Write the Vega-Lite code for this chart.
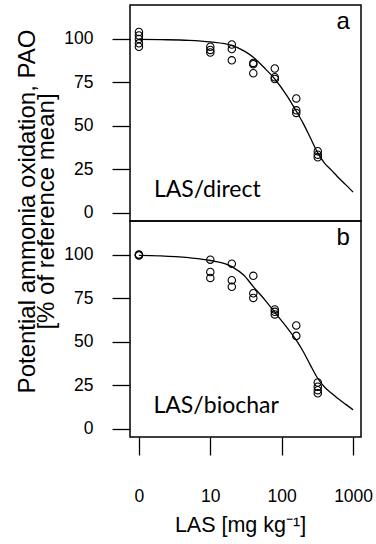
{
  "$schema": "https://vega.github.io/schema/vega-lite/v6.json",
  "padding": {"left": 14, "top": 4, "right": 5, "bottom": 5},
  "spacing": 0,
  "bounds": "flush",
  "background": "white",
  "config": {
    "font": "Liberation Sans",
    "view": {"stroke": "black", "strokeWidth": 1.5},
    "axis": {"grid": false, "domain": false, "tickColor": "black", "tickWidth": 1.3, "labelColor": "black", "titleColor": "black", "labelFont": "Liberation Sans", "titleFont": "Liberation Sans", "labelFontSize": 17.5, "titleFontWeight": "normal", "tickSize": 18},
    "axisY": {"tickSize": 18, "labelPadding": 19, "labelAlign": "right", "labelBaseline": "middle"}
  },
  "datasets": {
    "points": [
      {"panel": "a", "x": 1, "y": 104},
      {"panel": "a", "x": 1, "y": 102},
      {"panel": "a", "x": 1, "y": 100},
      {"panel": "a", "x": 1, "y": 97.5},
      {"panel": "a", "x": 1, "y": 95.5},
      {"panel": "a", "x": 10, "y": 95.5},
      {"panel": "a", "x": 10, "y": 93.7},
      {"panel": "a", "x": 10, "y": 92.2},
      {"panel": "a", "x": 20, "y": 96.8},
      {"panel": "a", "x": 20, "y": 94.2},
      {"panel": "a", "x": 20, "y": 87.7},
      {"panel": "a", "x": 40, "y": 86.2},
      {"panel": "a", "x": 40, "y": 85.5},
      {"panel": "a", "x": 40, "y": 80.3},
      {"panel": "a", "x": 80, "y": 83},
      {"panel": "a", "x": 80, "y": 78},
      {"panel": "a", "x": 80, "y": 77},
      {"panel": "a", "x": 160, "y": 65.8},
      {"panel": "a", "x": 160, "y": 59},
      {"panel": "a", "x": 160, "y": 57.5},
      {"panel": "a", "x": 320, "y": 35.5},
      {"panel": "a", "x": 320, "y": 33.5},
      {"panel": "a", "x": 320, "y": 32},
      {"panel": "b", "x": 1, "y": 100},
      {"panel": "b", "x": 1, "y": 100.3},
      {"panel": "b", "x": 1, "y": 99.7},
      {"panel": "b", "x": 10, "y": 97.3},
      {"panel": "b", "x": 10, "y": 90.2},
      {"panel": "b", "x": 10, "y": 86.8},
      {"panel": "b", "x": 20, "y": 95},
      {"panel": "b", "x": 20, "y": 85.5},
      {"panel": "b", "x": 20, "y": 81.7},
      {"panel": "b", "x": 40, "y": 88},
      {"panel": "b", "x": 40, "y": 78},
      {"panel": "b", "x": 40, "y": 75.3},
      {"panel": "b", "x": 80, "y": 68.7},
      {"panel": "b", "x": 80, "y": 67.3},
      {"panel": "b", "x": 80, "y": 65.8},
      {"panel": "b", "x": 160, "y": 59.5},
      {"panel": "b", "x": 160, "y": 53.5},
      {"panel": "b", "x": 320, "y": 26.7},
      {"panel": "b", "x": 320, "y": 24.3},
      {"panel": "b", "x": 320, "y": 22.3},
      {"panel": "b", "x": 320, "y": 20.5}
    ],
    "curve": [
      {"panel": "a", "x": 1, "y": 99.8},
      {"panel": "a", "x": 2, "y": 99.6},
      {"panel": "a", "x": 5, "y": 99.2},
      {"panel": "a", "x": 10, "y": 98.3},
      {"panel": "a", "x": 20, "y": 96.3},
      {"panel": "a", "x": 30, "y": 93},
      {"panel": "a", "x": 40, "y": 89.5},
      {"panel": "a", "x": 60, "y": 82.5},
      {"panel": "a", "x": 80, "y": 77},
      {"panel": "a", "x": 120, "y": 67},
      {"panel": "a", "x": 160, "y": 58.5},
      {"panel": "a", "x": 200, "y": 51.5},
      {"panel": "a", "x": 250, "y": 43.5},
      {"panel": "a", "x": 320, "y": 34.5},
      {"panel": "a", "x": 400, "y": 28.5},
      {"panel": "a", "x": 500, "y": 24.5},
      {"panel": "a", "x": 600, "y": 21},
      {"panel": "a", "x": 800, "y": 16},
      {"panel": "a", "x": 1000, "y": 12},
      {"panel": "b", "x": 1, "y": 99.8},
      {"panel": "b", "x": 2, "y": 99.5},
      {"panel": "b", "x": 5, "y": 98.4},
      {"panel": "b", "x": 10, "y": 96.8},
      {"panel": "b", "x": 20, "y": 93.3},
      {"panel": "b", "x": 30, "y": 88},
      {"panel": "b", "x": 40, "y": 81.8},
      {"panel": "b", "x": 60, "y": 73.5},
      {"panel": "b", "x": 80, "y": 67},
      {"panel": "b", "x": 120, "y": 58},
      {"panel": "b", "x": 160, "y": 51},
      {"panel": "b", "x": 200, "y": 44.5},
      {"panel": "b", "x": 250, "y": 37},
      {"panel": "b", "x": 320, "y": 29},
      {"panel": "b", "x": 400, "y": 24},
      {"panel": "b", "x": 500, "y": 20.5},
      {"panel": "b", "x": 600, "y": 17.8},
      {"panel": "b", "x": 800, "y": 14},
      {"panel": "b", "x": 1000, "y": 11}
    ],
    "letters": [
      {"panel": "a", "x": 900, "y": 105.5, "label": "a"},
      {"panel": "b", "x": 900, "y": 105.5, "label": "b"}
    ],
    "names": [
      {"panel": "a", "x": 1.62, "y": 9, "label": "LAS/direct"},
      {"panel": "b", "x": 1.6, "y": 9, "label": "LAS/biochar"}
    ]
  },
  "vconcat": [
    {
      "width": 231,
      "height": 216,
      "encoding": {
        "x": {"field": "x", "type": "quantitative", "scale": {"type": "log", "domain": [0.75, 1290], "nice": false}, "axis": null},
        "y": {"field": "y", "type": "quantitative", "scale": {"domain": [-4.6, 119.5], "nice": false, "zero": false},
          "axis": {"values": [0, 25, 50, 75, 100], "tickSize": 18, "labelPadding": 19,
            "title": ["Potential ammonia oxidation, PAO", "[% of reference mean]"],
            "titleFontSize": 24, "titleLineHeight": 19, "titleX": -91, "titleY": 206, "titleAngle": -90, "titleAlign": "center", "titleBaseline": "bottom"}}
      },
      "layer": [
        {"data": {"name": "curve"}, "transform": [{"filter": "datum.panel == 'a'"}], "mark": {"type": "line", "color": "black", "strokeWidth": 1.3, "interpolate": "monotone"}},
        {"data": {"name": "points"}, "transform": [{"filter": "datum.panel == 'a'"}], "mark": {"type": "point", "shape": "circle", "filled": false, "stroke": "black", "strokeWidth": 1.1, "size": 55, "opacity": 1}},
        {"data": {"name": "letters"}, "transform": [{"filter": "datum.panel == 'a'"}], "mark": {"type": "text", "align": "right", "baseline": "alphabetic", "font": "Liberation Sans", "fontSize": 24, "color": "black"}, "encoding": {"text": {"field": "label"}}},
        {"data": {"name": "names"}, "transform": [{"filter": "datum.panel == 'a'"}], "mark": {"type": "text", "align": "left", "baseline": "alphabetic", "font": "Lato", "fontSize": 23, "color": "black"}, "encoding": {"text": {"field": "label"}}}
      ]
    },
    {
      "width": 231,
      "height": 216,
      "encoding": {
        "x": {"field": "x", "type": "quantitative", "scale": {"type": "log", "domain": [0.75, 1290], "nice": false},
          "axis": {"values": [1, 10, 100, 1000], "labelExpr": "datum.value == 1 ? '0' : '' + datum.value", "tickSize": 18, "labelPadding": 46, "labelBaseline": "alphabetic",
            "title": "LAS [mg kg⁻¹]", "titleFontSize": 21.5, "titleBaseline": "alphabetic", "titleY": 94, "titleX": 110}},
        "y": {"field": "y", "type": "quantitative", "scale": {"domain": [-4.6, 119.5], "nice": false, "zero": false},
          "axis": {"values": [0, 25, 50, 75, 100], "tickSize": 18, "labelPadding": 19, "title": null}}
      },
      "layer": [
        {"data": {"name": "curve"}, "transform": [{"filter": "datum.panel == 'b'"}], "mark": {"type": "line", "color": "black", "strokeWidth": 1.3, "interpolate": "monotone"}},
        {"data": {"name": "points"}, "transform": [{"filter": "datum.panel == 'b'"}], "mark": {"type": "point", "shape": "circle", "filled": false, "stroke": "black", "strokeWidth": 1.1, "size": 55, "opacity": 1}},
        {"data": {"name": "letters"}, "transform": [{"filter": "datum.panel == 'b'"}], "mark": {"type": "text", "align": "right", "baseline": "alphabetic", "font": "Liberation Sans", "fontSize": 24, "color": "black"}, "encoding": {"text": {"field": "label"}}},
        {"data": {"name": "names"}, "transform": [{"filter": "datum.panel == 'b'"}], "mark": {"type": "text", "align": "left", "baseline": "alphabetic", "font": "Lato", "fontSize": 23, "color": "black"}, "encoding": {"text": {"field": "label"}}}
      ]
    }
  ]
}
